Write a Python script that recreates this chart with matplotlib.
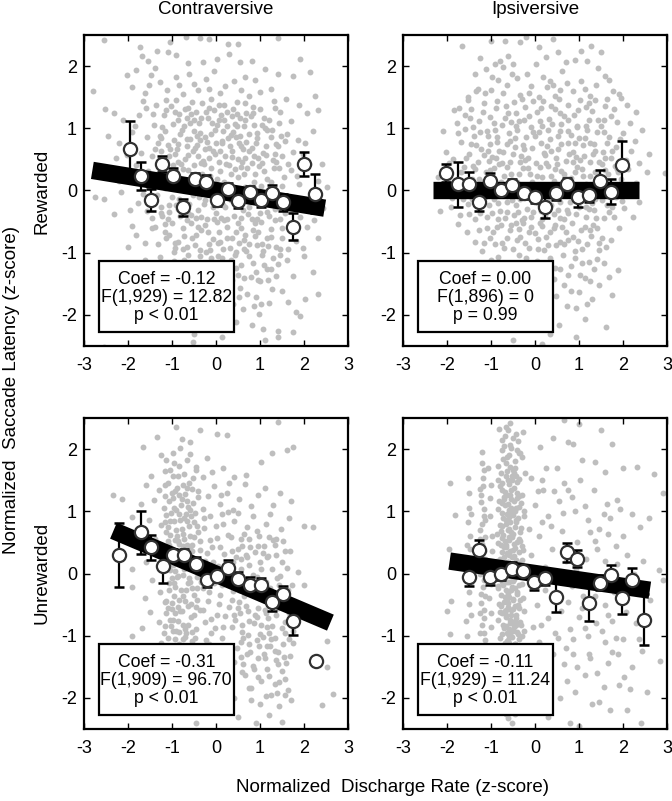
import numpy as np
import matplotlib.pyplot as plt
from matplotlib.patches import Rectangle

plt.rcParams['font.family'] = ['Liberation Sans', 'DejaVu Sans']
plt.rcParams['axes.unicode_minus'] = False

# ---- single-trial points (x = discharge rate z, y = latency z) ----
# contraversive / rewarded
cr_pts = [
    (-1.72,2.31),(-1.05,2.38),(-0.68,2.47),(-0.36,2.45),(-0.17,2.44),(0.28,2.36),(0.51,2.35),(1.42,2.45),(-1.69,2.16),
    (-1.35,2.24),(-1.54,2.09),(-1.08,2.22),(-0.29,2.07),(0.02,2.11),(0.55,2.07),(0.81,2.09),(-0.63,2.05),(-0.9,2.18),
    (0.3,2.2),(1.9,2.12),(-2.55,2.42),
    (-2.02,1.85),(-1.82,1.93),(-1.47,1.86),(-1.27,1.74),(-0.92,1.82),(-0.51,1.71),(-0.22,1.79),(0.41,1.76),(1.12,1.95),
    (1.41,1.88),(1.76,1.84),(2.14,1.9),(-2.79,1.6),(-1.62,1.56),(-1.11,1.61),(-0.76,1.55),(-0.42,1.62),(0.09,1.56),
    (0.56,1.61),(0.76,1.52),(1.24,1.63),(1.58,1.47),(2.26,1.52),(-0.05,1.92),(-1.38,1.97),(0.88,1.77),(-0.62,1.88),
    (0.2,1.68),(1.0,1.58),(-1.9,1.66),
    (-2.52,1.31),(-2.31,1.24),(-2.12,1.13),(-1.76,1.21),(-1.58,1.33),(-1.41,1.06),(-1.19,1.21),(-1.02,1.36),(-0.86,1.14),
    (-0.71,1.31),(-0.58,1.09),(-0.46,1.26),(-0.31,1.41),(-0.19,1.16),(-0.04,1.29),(0.11,1.21),(0.26,1.04),(0.39,1.31),
    (0.54,1.17),(0.69,1.24),(0.86,1.06),(1.01,1.31),(1.21,1.14),(1.46,1.26),(1.71,1.11),(2.06,1.24),(2.31,1.29),
    (-0.55,1.42),(0.02,1.06),(0.66,1.41),(-0.91,1.46),(0.36,1.19),(-1.36,1.37),(-1.22,1.02),(-0.38,1.08),(0.18,1.38),
    (0.83,1.35),(1.32,1.44),(-0.12,1.47),(0.48,1.03),(1.12,1.01),(-0.66,1.17),(-1.66,1.44),(1.88,1.37),
    (-1.91,0.94),(-1.56,0.86),(-1.31,0.76),(-1.16,0.96),(-0.96,0.81),(-0.81,0.91),(-0.66,0.71),(-0.51,0.96),(-0.36,0.81),
    (-0.26,0.66),(-0.11,0.91),(0.01,0.76),(0.16,0.96),(0.31,0.71),(0.46,0.86),(0.61,0.66),(0.76,0.91),(0.91,0.76),
    (1.06,0.61),(1.26,0.86),(1.41,0.71),(1.61,0.91),(1.86,0.81),(2.21,0.96),(-2.21,0.76),(-1.71,0.61),(-1.46,0.56),
    (-1.06,0.56),(-0.71,0.51),(-0.41,0.56),(-0.16,0.52),(0.21,0.56),(0.51,0.51),(0.96,0.52),(1.16,0.97),(1.51,0.56),
    (1.76,0.62),(-2.45,0.88),(-0.88,0.66),(-0.58,0.83),(0.08,0.63),(0.38,0.94),(0.68,0.78),(1.34,0.58),(-0.21,0.78),
    (0.56,0.72),(-1.24,0.63),(0.86,0.55),(1.97,0.58),(-0.02,0.98),(-0.47,0.68),(0.27,0.84),
    (-2.42,0.36),(-2.21,0.16),(-1.81,0.41),(-1.55,0.31),(-1.36,0.11),(-1.16,0.46),(-0.91,0.31),(-0.71,0.16),(-0.51,0.41),
    (-0.31,0.26),(-0.11,0.36),(0.09,0.31),(0.29,0.41),(0.49,0.21),(0.71,0.36),(0.89,0.26),(1.09,0.31),(1.31,0.36),
    (1.54,0.21),(1.89,0.11),(2.31,0.16),(2.52,0.06),(-0.86,0.46),(1.36,0.46),(0.66,0.06),(-0.36,0.04),(-1.02,0.12),
    (-0.62,0.02),(0.18,0.14),(0.42,0.03),(1.02,0.08),(-1.68,0.22),(0.82,0.44),(-0.18,0.12),(1.71,0.33),(2.12,0.42),
    (0.58,0.46),(-1.28,0.34),
    (-2.74,-0.11),(-2.55,-0.13),(-1.96,-0.31),(-1.66,-0.06),(-1.26,-0.36),(-1.01,-0.11),(-0.81,-0.41),(-0.61,-0.21),
    (-0.41,-0.31),(-0.21,-0.46),(-0.01,-0.36),(0.21,-0.26),(0.41,-0.41),(0.61,-0.31),(0.81,-0.46),(1.01,-0.36),
    (1.21,-0.41),(1.46,-0.46),(1.71,-0.31),(2.11,-0.21),(-1.45,-0.45),(0.26,-0.46),(-1.1,-0.46),(0.86,-0.16),
    (-0.52,-0.08),(0.04,-0.12),(0.46,-0.06),(-0.28,-0.22),(1.14,-0.18),(1.58,-0.09),(-2.32,-0.38),(-0.92,-0.24),
    (0.68,-0.02),(1.92,-0.42),(2.44,-0.28),(-1.78,-0.2),(0.12,-0.44),(-0.66,-0.48),
    (-2.01,-0.91),(-1.81,-0.71),(-1.46,-0.61),(-1.31,-0.86),(-1.06,-0.71),(-0.96,-0.99),(-0.76,-0.61),(-0.66,-0.91),
    (-0.46,-0.71),(-0.36,-0.96),(-0.26,-0.56),(-0.16,-0.86),(0.06,-0.66),(0.16,-0.94),(0.36,-0.76),(0.46,-0.99),
    (0.56,-0.61),(0.76,-0.86),(0.96,-0.66),(1.06,-0.98),(1.16,-0.76),(1.36,-0.91),(1.51,-0.61),(1.81,-0.81),
    (2.31,-0.76),(-0.56,-0.52),(0.26,-0.58),(0.88,-0.53),(-1.16,-0.54),(0.66,-0.72),(-0.06,-0.78),(1.26,-0.62),
    (-0.86,-0.82),(0.02,-0.51),(0.52,-0.84),(1.64,-0.94),(-1.62,-0.84),(2.06,-0.58),(-0.42,-0.58),(0.94,-0.88),
    (-1.61,-1.11),(-1.21,-1.26),(-0.86,-1.36),(-0.56,-1.21),(-0.36,-1.06),(-0.06,-1.31),(0.24,-1.21),(0.44,-1.03),
    (0.64,-1.41),(0.84,-1.16),(1.04,-1.03),(1.24,-1.26),(1.61,-1.11),(2.01,-1.06),(-1.71,-1.41),(-0.31,-1.46),
    (0.51,-1.36),(1.01,-1.46),(-1.01,-1.46),(2.21,-1.31),(0.14,-1.08),(-0.18,-1.19),(0.92,-1.31),(1.42,-1.18),
    (-0.72,-1.12),(0.36,-1.44),(1.18,-1.44),(1.74,-1.38),
    (-1.31,-1.61),(-0.81,-1.76),(-0.41,-1.66),(0.01,-1.86),(0.31,-1.61),(0.61,-1.91),(0.91,-1.71),(1.21,-1.81),
    (1.51,-1.61),(1.81,-1.96),(2.31,-1.66),(-0.21,-2.21),(0.21,-2.01),(0.81,-2.16),(1.41,-2.26),(1.76,-2.28),
    (1.91,-2.01),(-0.51,-2.31),(1.11,-2.41),(1.41,-2.36),(-1.62,-2.0),(0.46,-2.12),(0.98,-1.98),(-0.52,-2.44),
    (0.52,-1.72),(1.06,-2.22),(-2.54,-2.52),(0.14,-2.36),(1.64,-1.8),(2.02,-1.74),
    (-1.43,1.23),(-1.27,0.88),(-1.13,1.29),(-0.97,1.07),(-0.83,1.23),(-0.77,0.97),(-0.63,1.33),(-0.49,1.13),(-0.37,0.93),
    (-0.23,1.27),(-0.09,1.09),(0.07,1.37),(0.19,1.13),(0.33,0.89),(0.47,1.23),(0.63,1.03),(0.79,1.19),(0.93,0.93),
    (1.09,1.17),(1.27,0.97),(1.43,1.09),(1.57,0.79),
    (-1.39,0.67),(-1.21,0.47),(-1.09,0.73),(-0.93,0.59),(-0.79,0.43),(-0.67,0.83),(-0.53,0.63),(-0.43,0.87),(-0.29,0.47),
    (-0.17,0.69),(-0.03,0.59),(0.13,0.79),(0.23,0.43),(0.37,0.63),(0.53,0.77),(0.67,0.53),(0.81,0.69),(0.97,0.39),
    (1.13,0.71),(1.29,0.49),(1.47,0.87),(1.63,0.43),
    (-1.47,0.21),(-1.33,-0.07),(-1.19,0.27),(-1.07,-0.23),(-0.97,0.41),(-0.87,0.03),(-0.77,-0.17),(-0.63,0.33),(-0.47,0.13),
    (-0.39,-0.11),(-0.27,0.43),(-0.13,-0.03),(0.03,0.19),(0.17,-0.07),(0.33,0.27),(0.43,-0.19),(0.57,0.37),(0.73,-0.09),
    (0.87,0.13),(0.99,-0.23),(1.17,0.19),(1.33,-0.29),(1.49,0.07),(1.67,-0.17),
    (-1.39,-0.59),(-1.23,-0.41),(-1.13,-0.77),(-0.99,-0.53),(-0.87,-0.29),(-0.73,-0.73),(-0.57,-0.39),(-0.47,-0.87),
    (-0.33,-0.43),(-0.19,-0.67),(-0.07,-0.27),(0.09,-0.83),(0.19,-0.47),(0.31,-0.93),(0.49,-0.53),(0.63,-0.79),
    (0.73,-0.37),(0.89,-0.73),(1.03,-0.51),(1.19,-0.89),(1.33,-0.47),(1.49,-0.77),(1.69,-0.63),
    (-1.27,-1.07),(-1.09,-1.19),(-0.93,-0.93),(-0.79,-1.23),(-0.63,-1.03),(-0.49,-1.33),(-0.39,-1.17),(-0.23,-0.99),
    (-0.11,-1.09),(0.03,-1.21),(0.21,-1.33),(0.33,-1.11),(0.57,-1.19),(0.69,-0.97),(0.79,-1.39),(1.09,-1.19),
    (1.29,-1.09),(1.37,-1.37),(-0.67,-1.57),(0.09,-1.63),(0.71,-1.67),(1.27,-1.59),(-0.27,-1.79),(0.39,-1.83),(1.03,-1.83),
    (-1.83,1.03),(-2.03,0.57),(-1.87,0.27),(-2.17,-0.03),(-1.91,-0.57),(-2.27,0.53),(-1.57,-0.33),(1.83,0.23),(2.03,0.77),
    (2.23,-0.47),(1.97,-0.93),(2.41,0.43),(-1.53,1.69),(-0.83,1.69),(0.67,1.83),(1.33,1.33),(-0.17,1.63),(0.47,1.43),
    (-1.14,1.46),(-0.94,1.27),(-0.73,1.04),(-0.56,1.23),(-0.34,1.17),(-0.16,1.33),(0.06,1.14),(0.24,1.26),(0.44,1.07),
    (0.66,1.13),(0.84,1.24),(1.04,1.06),
    (-1.26,0.84),(-1.04,0.66),(-0.86,0.74),(-0.64,0.57),(-0.44,0.73),(-0.24,0.86),(-0.06,0.64),(0.14,0.77),(0.36,0.54),
    (0.54,0.87),(0.74,0.63),(0.94,0.84),(1.14,0.57),(1.36,0.74),
    (-1.34,0.26),(-1.16,0.04),(-0.94,0.17),(-0.74,0.34),(-0.56,0.16),(-0.34,0.44),(-0.14,0.23),(0.06,0.46),(0.26,0.06),
    (0.44,0.34),(0.64,0.27),(0.86,0.04),(1.04,0.44),(1.26,0.14),(1.44,0.36),
    (-1.24,-0.26),(-1.06,-0.34),(-0.84,-0.14),(-0.64,-0.36),(-0.46,-0.44),(-0.24,-0.16),(-0.04,-0.46),(0.16,-0.24),
    (0.34,-0.16),(0.56,-0.44),(0.74,-0.26),(0.94,-0.46),(1.16,-0.34),(1.34,-0.14),(1.56,-0.36),
    (-1.16,-0.66),(-0.94,-0.84),(-0.76,-0.94),(-0.54,-0.76),(-0.34,-0.64),(-0.14,-0.96),(0.04,-0.84),(0.24,-0.76),
    (0.46,-0.66),(0.64,-0.94),(0.84,-0.64),(1.04,-0.86),(1.24,-0.74),(1.46,-0.94),
    (-0.96,-1.14),(-0.66,-1.24),(-0.44,-1.44),(-0.26,-1.36),(0.04,-1.06),(0.26,-1.46),(0.46,-1.24),(0.76,-1.06),
    (0.96,-1.44),(1.16,-1.26),(1.46,-1.04),(-0.06,-1.64),(0.54,-1.56),(0.86,-1.86),
]

# ipsiversive / rewarded
ir_pts = [
    (-1.67,2.32),(-0.99,2.4),(-0.69,2.41),(-0.35,2.38),(0.1,2.3),(0.4,2.43),(1.28,2.32),(1.5,2.22),(-1.25,2.13),
    (-0.91,2.03),(-0.8,2.08),(-0.61,2.16),(-0.5,2.03),(0.71,2.06),(0.9,2.1),(-0.2,2.47),(0.25,2.15),(1.05,2.25),
    (-1.36,1.87),(-0.53,1.87),(-0.19,1.87),(0.34,1.76),(0.56,1.62),(1.05,1.76),(1.58,1.84),(1.39,1.7),(1.77,1.6),
    (-1.52,1.51),(-1.33,1.6),(-0.99,1.62),(-0.73,1.57),(-0.35,1.54),(0.08,1.51),(0.27,1.66),(0.87,1.6),(1.25,1.52),
    (-0.84,1.78),(-0.08,1.68),(0.62,1.92),(1.9,1.55),(-1.12,1.95),(0.45,1.52),
    (1.96,1.49),(2.08,1.38),(-1.52,1.46),(-1.78,1.08),(-1.6,1.22),(-1.45,1.31),(-1.28,1.12),(-1.15,1.41),(-1.02,1.18),
    (-0.88,1.32),(-0.76,1.05),(-0.62,1.24),(-0.48,1.42),(-0.36,1.12),(-0.22,1.35),(-0.1,1.02),(0.04,1.27),(0.18,1.44),
    (0.32,1.15),(0.46,1.31),(0.6,1.07),(0.74,1.38),(0.88,1.21),(1.02,1.46),(1.16,1.04),(1.3,1.28),(1.44,1.14),
    (1.58,1.36),(1.72,1.2),(1.86,1.1),(2.3,1.26),(-0.55,1.1),(0.12,1.12),(0.95,1.02),(-0.3,1.47),(0.55,1.47),
    (1.22,1.4),(-1.4,1.02),
    (-2.1,0.95),(-1.76,0.92),(-2.02,0.62),(-1.68,0.78),(-1.5,0.58),(-1.38,0.88),(-1.22,0.66),(-1.1,0.95),(-0.98,0.54),
    (-0.86,0.78),(-0.72,0.62),(-0.6,0.92),(-0.46,0.7),(-0.32,0.56),(-0.2,0.86),(-0.06,0.68),(0.08,0.94),(0.2,0.6),
    (0.34,0.82),(0.48,0.52),(0.6,0.74),(0.74,0.96),(0.86,0.62),(1.0,0.84),(1.12,0.56),(1.26,0.76),(1.4,0.94),
    (1.54,0.62),(1.68,0.86),(1.84,0.7),(2.0,0.92),(2.18,0.63),(2.37,0.45),(-0.9,0.98),(-0.4,0.98),(0.3,0.98),
    (0.92,0.76),(1.6,0.52),(-1.02,0.74),(0.52,0.88),(1.18,0.98),(-0.15,0.52),(2.6,0.58),(-1.86,0.5),
    (-2.2,0.22),(-1.95,0.45),(-1.82,0.08),(-1.62,0.38),(-1.44,0.18),(-1.3,0.46),(-1.12,0.3),(-0.96,0.12),(-0.82,0.42),
    (-0.7,0.24),(-0.56,0.46),(-0.42,0.14),(-0.28,0.36),(-0.12,0.26),(0.02,0.44),(0.16,0.22),(0.3,0.4),(0.44,0.16),
    (0.58,0.32),(0.7,0.48),(0.82,0.2),(0.96,0.38),(1.1,0.24),(1.24,0.46),(1.36,0.3),(1.52,0.42),(1.66,0.26),
    (1.82,0.4),(1.96,0.18),(2.12,0.34),(2.3,0.12),(2.55,0.3),(2.95,0.28),(-0.6,0.06),(0.4,0.04),(1.45,0.06),
    (-1.05,0.48),(0.08,0.08),
    (-2.15,-0.33),(-1.88,-0.12),(-1.7,-0.4),(-1.52,-0.22),(-1.36,-0.46),(-1.14,-0.1),(-0.98,-0.36),(-0.84,-0.2),
    (-0.68,-0.44),(-0.52,-0.16),(-0.38,-0.34),(-0.24,-0.08),(-0.1,-0.42),(0.06,-0.2),(0.22,-0.4),(0.36,-0.12),
    (0.52,-0.32),(0.66,-0.46),(0.8,-0.18),(0.94,-0.38),(1.08,-0.08),(1.22,-0.3),(1.38,-0.44),(1.52,-0.16),
    (1.68,-0.34),(1.84,-0.1),(2.02,-0.28),(2.22,-0.42),(-0.72,-0.06),(0.3,-0.26),(1.3,-0.2),(-0.3,-0.48),
    (-1.54,-0.66),(-1.2,-0.98),(-1.36,-0.82),(-1.08,-0.6),(-0.92,-0.86),(-0.78,-0.56),(-0.64,-0.76),(-0.5,-0.94),
    (-0.36,-0.62),(-0.22,-0.84),(-0.08,-0.58),(0.06,-0.78),(0.2,-0.96),(0.34,-0.66),(0.48,-0.88),(0.62,-0.58),
    (0.76,-0.8),(0.9,-0.98),(1.04,-0.64),(1.18,-0.86),(1.32,-0.56),(1.53,-0.77),(1.72,-0.79),(1.9,-0.6),
    (-1.74,-0.54),(0.12,-0.52),(1.46,-0.96),(-0.44,-0.52),
    (0.63,-1.03),(1.23,-1.15),(-1.0,-1.12),(-0.6,-1.3),(-0.2,-1.08),(0.18,-1.24),(0.44,-1.42),(0.82,-1.22),
    (1.02,-1.36),(1.4,-1.1),(1.68,-1.39),(0.66,-1.52),(1.45,-1.52),(1.88,-1.28),(-0.4,-1.46),(0.05,-1.4),
    (0.93,-1.89),(1.0,-1.63),(0.54,-2.16),(0.93,-2.35),(1.61,-2.19),(1.3,-1.74),(0.72,-1.86),(1.14,-2.06),
    (1.75,-1.68),(0.2,-1.78),(0.35,-2.3),(-0.5,-2.4),(0.15,-2.46),
    (-1.73,1.33),(-1.59,0.99),(-1.47,1.17),(-1.33,0.73),(-1.19,1.27),(-1.07,0.87),(-0.93,1.09),(-0.81,0.63),(-0.69,1.17),
    (-0.57,0.79),(-0.43,1.03),(-0.27,0.73),(-0.13,1.19),(0.01,0.87),(0.13,1.33),(0.27,0.71),(0.39,1.07),(0.53,0.67),
    (0.67,1.19),(0.81,0.89),(0.97,1.29),(1.09,0.73),(1.23,1.13),(1.37,0.63),(1.51,1.03),(1.63,0.77),(1.79,1.31),(1.93,0.83),
    (-1.69,0.29),(-1.57,0.53),(-1.41,0.39),(-1.27,0.19),(-1.17,0.57),(-1.03,0.33),(-0.89,0.53),(-0.77,0.13),(-0.63,0.37),
    (-0.49,0.59),(-0.37,0.27),(-0.23,0.49),(-0.07,0.13),(0.11,0.37),(0.23,0.57),(0.37,0.23),(0.51,0.43),(0.63,0.13),
    (0.77,0.59),(0.91,0.29),(1.03,0.49),(1.17,0.11),(1.31,0.59),(1.43,0.27),(1.59,0.33),(1.73,0.53),(1.89,0.29),(2.07,0.49),
    (-1.63,-0.13),(-1.49,-0.37),(-1.29,-0.23),(-1.09,-0.43),(-0.93,-0.13),(-0.79,-0.33),(-0.63,-0.19),(-0.47,-0.39),
    (-0.33,-0.13),(-0.19,-0.29),(-0.03,-0.07),(0.13,-0.33),(0.27,-0.13),(0.43,-0.37),(0.57,-0.19),(0.73,-0.31),
    (0.87,-0.09),(1.01,-0.27),(1.17,-0.43),(1.33,-0.31),(1.47,-0.07),(1.63,-0.23),(1.79,-0.43),(1.97,-0.17),
    (-1.27,-0.63),(-1.03,-0.77),(-0.87,-0.59),(-0.71,-0.93),(-0.57,-0.63),(-0.41,-0.79),(-0.27,-0.53),(-0.13,-0.93),
    (0.01,-0.69),(0.17,-0.57),(0.29,-0.87),(0.43,-0.61),(0.57,-0.83),(0.71,-0.67),(0.83,-0.53),(0.97,-0.81),
    (1.13,-0.59),(1.27,-0.73),(1.41,-0.61),(1.61,-0.91),
    (-0.83,-1.07),(-0.47,-1.17),(-0.07,-1.27),(0.33,-1.09),(0.57,-1.27),(0.91,-1.09),(1.13,-1.41),(1.33,-1.27),
    (1.57,-1.17),(0.81,-1.61),(1.19,-1.83),(0.47,-1.69),
    (-1.29,1.63),(-0.97,1.83),(-0.63,1.69),(-0.41,1.81),(-0.13,1.57),(0.19,1.83),(0.41,1.69),(0.73,1.73),(1.13,1.63),
    (1.43,1.97),(1.69,1.77),(-0.73,1.99),(0.03,2.03),(0.53,2.23),(1.19,2.09),(1.63,1.47),(-1.83,1.29),(2.17,1.09),
    (2.27,0.79),(2.43,0.97),(2.13,-0.03),(2.37,-0.19),(-1.97,0.19),(-1.91,-0.27),
    (-1.14,1.56),(-0.86,1.44),(-0.66,1.36),(-0.44,1.24),(-0.26,1.14),(-0.04,1.44),(0.16,1.04),(0.36,1.36),(0.56,1.24),
    (0.76,1.14),(0.96,1.04),(1.16,1.34),(1.36,1.46),(1.56,1.14),
    (-1.46,0.74),(-1.26,0.94),(-1.06,0.64),(-0.86,0.86),(-0.64,0.74),(-0.46,0.84),(-0.24,0.66),(-0.04,0.94),(0.14,0.76),
    (0.36,0.64),(0.56,0.96),(0.74,0.76),(0.94,0.54),(1.14,0.84),(1.34,0.74),(1.56,0.94),(1.74,0.64),
    (-1.56,0.14),(-1.36,0.34),(-1.16,0.16),(-0.94,0.36),(-0.74,0.44),(-0.54,0.26),(-0.34,0.46),(-0.16,0.36),(0.04,0.24),
    (0.24,0.44),(0.46,0.34),(0.66,0.26),(0.86,0.46),(1.06,0.34),(1.26,0.24),(1.46,0.46),(1.66,0.14),(1.86,0.34),
    (-1.44,-0.14),(-1.24,-0.36),(-1.04,-0.24),(-0.84,-0.46),(-0.64,-0.34),(-0.44,-0.24),(-0.24,-0.44),(-0.04,-0.34),
    (0.16,-0.46),(0.36,-0.24),(0.56,-0.44),(0.76,-0.36),(0.96,-0.16),(1.16,-0.26),(1.36,-0.14),(1.56,-0.44),(1.76,-0.26),
    (-1.16,-0.84),(-0.96,-0.66),(-0.76,-0.84),(-0.54,-0.56),(-0.34,-0.74),(-0.14,-0.66),(0.06,-0.94),(0.26,-0.74),
    (0.46,-0.56),(0.66,-0.86),(0.86,-0.74),(1.06,-0.94),(1.26,-0.64),(1.46,-0.84),
    (-0.36,-1.04),(0.04,-1.14),(0.46,-1.24),(0.76,-1.36),(1.06,-1.16),(1.26,-1.46),(0.26,-1.56),
]

# contraversive / unrewarded
cu_pts = [
    (-1.35,2.2),(-0.36,2.31),(0.02,2.25),(0.24,2.23),(1.42,2.44),(1.27,1.93),(1.61,1.98),(1.76,2.04),(-1.65,2.04),
    (-0.82,2.02),(-0.6,1.92),(-0.95,1.78),(-1.15,1.64),(-0.72,1.6),(-0.45,1.72),(-0.2,1.86),(0.15,1.7),(0.42,1.55),
    (-1.48,1.56),(-0.3,1.55),(0.68,1.58),(1.02,1.8),(-1.25,1.9),(-0.58,2.12),(-0.9,2.36),
    (-2.33,1.26),(-2.14,1.2),(-1.58,1.42),(-1.42,1.18),(-1.3,1.34),(-1.18,1.06),(-1.08,1.45),(-0.98,1.22),(-0.88,1.38),
    (-0.8,1.1),(-0.7,1.28),(-0.62,1.46),(-0.52,1.14),(-0.42,1.32),(-0.3,1.04),(-0.18,1.24),(-0.04,1.4),(0.1,1.12),
    (0.24,1.3),(0.38,1.02),(0.52,1.2),(0.66,1.44),(0.8,1.08),(0.96,1.26),(1.12,1.38),(1.3,1.1),(1.46,1.3),
    (1.7,1.16),(-0.92,1.02),(-0.6,1.02),(0.3,1.46),(-1.7,1.12),(-1.0,1.3),(-0.75,1.42),
    (-1.92,0.91),(-1.7,0.7),(-1.52,0.86),(-1.38,0.56),(-1.24,0.78),(-1.14,0.94),(-1.04,0.62),(-0.96,0.84),(-0.86,0.52),
    (-0.78,0.72),(-0.68,0.96),(-0.58,0.6),(-0.5,0.82),(-0.4,0.66),(-0.28,0.9),(-0.14,0.54),(0.0,0.76),(0.14,0.96),
    (0.28,0.62),(0.42,0.84),(0.56,0.56),(0.7,0.74),(0.84,0.92),(0.98,0.6),(1.14,0.8),(1.3,0.54),(1.48,0.72),
    (1.66,0.9),(2.0,0.77),(2.2,0.75),(-0.92,0.7),(-0.72,0.56),(-0.56,0.92),(-1.1,0.74),(0.5,0.98),(1.22,0.96),
    (-0.36,0.52),(-0.82,0.86),
    (-2.18,0.29),(-1.92,0.08),(-1.72,0.44),(-1.58,0.18),(-1.4,0.34),(-1.22,0.1),(-1.12,0.42),(-1.02,0.22),(-0.94,0.04),
    (-0.86,0.36),(-0.76,0.16),(-0.66,0.46),(-0.56,0.26),(-0.46,0.06),(-0.36,0.38),(-0.24,0.2),(-0.1,0.42),(0.04,0.12),
    (0.18,0.32),(0.32,0.04),(0.46,0.26),(0.6,0.44),(0.74,0.14),(0.88,0.34),(1.02,0.08),(1.18,0.28),(1.34,0.46),
    (1.5,0.18),(1.68,0.36),(1.86,0.02),(-0.8,0.28),(-1.06,0.46),(-0.62,0.1),(0.68,0.3),(1.1,0.44),(-0.98,0.14),
    (-1.9,-0.22),(-1.62,-0.4),(-1.46,-0.1),(-1.28,-0.3),(-1.16,-0.46),(-1.06,-0.16),(-0.96,-0.36),(-0.88,-0.06),
    (-0.8,-0.26),(-0.7,-0.44),(-0.6,-0.14),(-0.5,-0.34),(-0.4,-0.04),(-0.3,-0.24),(-0.18,-0.44),(-0.04,-0.16),
    (0.1,-0.34),(0.24,-0.08),(0.38,-0.28),(0.52,-0.46),(0.66,-0.12),(0.8,-0.32),(0.94,-0.06),(1.08,-0.42),
    (1.22,-0.24),(1.38,-0.08),(1.54,-0.36),(1.72,-0.18),(2.0,-0.19),(-0.76,-0.02),(-1.0,-0.48),(0.46,-0.02),
    (1.3,-0.46),(-0.44,-0.42),
    (-1.69,-0.87),(-1.92,-1.0),(-1.5,-0.62),(-1.3,-0.78),(-1.18,-0.96),(-1.08,-0.56),(-0.98,-0.74),(-0.9,-0.92),
    (-0.82,-0.6),(-0.74,-0.82),(-0.64,-0.52),(-0.56,-0.7),(-0.46,-0.9),(-0.36,-0.58),(-0.24,-0.78),(-0.12,-0.96),
    (0.02,-0.66),(0.16,-0.86),(0.3,-0.54),(0.44,-0.74),(0.58,-0.94),(0.72,-0.6),(0.86,-0.8),(1.0,-0.98),
    (1.14,-0.64),(1.28,-0.84),(1.42,-0.56),(1.56,-0.78),(1.74,-0.92),(2.52,-1.08),(-0.94,-0.64),(0.5,-0.56),
    (0.94,-0.7),(1.2,-0.96),(-0.68,-0.96),(-1.02,-0.84),
    (-1.24,-1.12),(-1.04,-1.32),(-0.94,-1.06),(-0.84,-1.44),(-0.74,-1.2),(-0.64,-1.38),(-0.54,-1.08),(-0.44,-1.28),
    (-0.3,-1.46),(-0.16,-1.14),(0.0,-1.34),(0.14,-1.04),(0.28,-1.24),(0.42,-1.42),(0.56,-1.1),(0.7,-1.3),
    (0.84,-1.48),(0.98,-1.16),(1.12,-1.36),(1.26,-1.06),(1.42,-1.26),(1.58,-1.44),(1.76,-1.12),(2.52,-1.51),
    (0.62,-1.46),(1.06,-1.02),(-0.7,-1.02),(1.4,-1.46),
    (-1.0,-1.6),(-0.8,-1.8),(-0.62,-2.02),(-0.4,-1.66),(-0.2,-1.9),(0.0,-2.2),(0.2,-1.7),(0.4,-2.0),(0.6,-1.58),
    (0.8,-1.84),(1.0,-2.1),(1.2,-1.64),(1.38,-1.92),(1.56,-1.7),(1.7,-2.04),(2.67,-1.94),(2.4,-2.12),(0.5,-2.3),
    (1.5,-2.38),(-0.46,-2.4),(1.2,-2.28),(0.9,-2.4),
    (-1.13,1.83),(-0.97,1.57),(-0.83,1.73),(-0.67,1.37),(-0.53,1.53),(-1.07,1.17),(-0.93,1.33),(-0.77,1.19),(-0.63,1.07),
    (-0.47,0.97),(-1.17,0.83),(-1.03,0.97),(-0.89,0.61),(-0.73,0.89),(-0.61,0.77),(-0.49,0.59),(-1.09,0.53),(-0.97,0.37),
    (-0.83,0.47),(-0.71,0.29),(-0.59,0.43),(-0.43,0.23),(-1.13,0.17),(-0.99,-0.07),(-0.87,0.19),(-0.73,0.07),(-0.61,-0.07),
    (-0.51,0.13),(-1.07,-0.27),(-0.93,-0.21),(-0.83,-0.43),(-0.69,-0.27),(-0.57,-0.49),(-0.43,-0.23),(-1.13,-0.63),
    (-0.99,-0.57),(-0.87,-0.77),(-0.77,-0.61),(-0.63,-0.83),(-0.49,-0.67),(-1.09,-1.03),(-0.97,-0.93),(-0.83,-1.13),
    (-0.71,-0.89),(-0.59,-1.19),(-0.47,-1.03),(-1.03,-1.43),(-0.89,-1.29),(-0.77,-1.53),(-0.63,-1.67),(-0.51,-1.37),
    (-0.93,-1.73),(-0.73,-1.93),(-0.57,-1.83),(-0.87,-2.07),(-0.97,1.93),(-0.77,2.17),(-0.67,1.83),(-1.17,1.43),(-0.41,1.23),
    (0.33,0.59),(0.49,0.39),(0.63,0.63),(0.77,0.43),(0.93,0.69),(1.07,0.33),(1.21,0.59),(1.37,0.29),(1.53,0.53),
    (0.39,0.19),(0.57,0.07),(0.71,0.27),(0.83,-0.03),(0.99,0.19),(1.13,-0.13),(1.27,0.07),(1.43,-0.19),(1.61,0.09),
    (0.37,-0.43),(0.53,-0.27),(0.69,-0.53),(0.81,-0.19),(0.97,-0.39),(1.11,-0.59),(1.29,-0.33),(1.47,-0.53),(1.63,-0.27),
    (0.41,-0.67),(0.59,-0.83),(0.73,-0.99),(0.89,-0.67),(1.03,-0.83),(1.19,-0.71),(1.33,-1.03),(1.51,-0.87),(1.67,-0.63),
    (0.47,-1.19),(0.61,-1.03),(0.77,-1.27),(0.93,-1.07),(1.09,-1.29),(1.23,-1.17),(1.37,-1.39),(1.53,-1.13),(1.69,-1.33),
    (0.67,-1.63),(0.87,-1.53),(1.03,-1.73),(1.17,-1.53),(1.33,-1.77),(1.49,-1.57),(1.63,-1.87),(0.79,-2.03),(1.13,-1.97),
    (1.43,-2.13),
    (-0.27,0.73),(-0.13,0.93),(0.03,0.57),(0.17,0.79),(-0.21,0.33),(-0.07,0.19),(0.09,0.43),(0.23,0.17),(-0.33,-0.13),
    (-0.17,-0.29),(-0.01,-0.03),(0.13,-0.19),(-0.29,-0.59),(-0.11,-0.73),(0.07,-0.49),(0.21,-0.69),(-0.23,-1.07),
    (-0.03,-0.87),(0.17,-1.19),(-0.13,-1.39),(0.07,-1.57),(-0.33,-1.73),(0.27,-1.43),(0.11,1.27),(-0.09,1.63),(0.27,0.99),
    (-1.16,1.24),(-0.96,1.06),(-0.84,1.26),(-0.66,1.16),(-0.54,1.36),(-0.46,1.66),(-0.86,1.56),(-1.04,1.66),
    (-1.14,0.66),(-0.94,0.54),(-0.76,0.64),(-0.66,0.84),(-0.54,0.46),(-0.44,0.76),(-1.04,0.84),(-0.84,0.96),
    (-1.16,0.34),(-1.04,0.06),(-0.86,-0.04),(-0.76,0.44),(-0.64,0.24),(-0.54,0.36),(-0.44,-0.06),(-0.96,0.26),
    (-1.14,-0.44),(-0.96,-0.16),(-0.86,-0.54),(-0.74,-0.36),(-0.64,-0.16),(-0.54,-0.24),(-0.46,-0.54),(-1.04,-0.74),
    (-1.16,-0.84),(-0.94,-1.16),(-0.84,-0.94),(-0.74,-1.06),(-0.64,-1.26),(-0.54,-0.94),(-0.44,-1.16),(-1.06,-1.24),
    (-0.96,-1.56),(-0.86,-1.86),(-0.76,-1.34),(-0.66,-1.46),(-0.56,-1.64),(-0.46,-1.86),(-0.66,-2.16),(-0.86,-1.64),
    (0.36,0.36),(0.56,0.24),(0.76,0.56),(0.96,0.44),(1.16,0.26),(1.36,0.56),(1.56,0.36),(0.44,-0.14),(0.64,-0.36),
    (0.86,-0.26),(1.06,-0.16),(1.26,-0.44),(1.46,-0.04),(1.66,-0.46),
    (0.36,-0.86),(0.54,-0.64),(0.76,-0.76),(0.96,-0.56),(1.16,-0.86),(1.36,-0.66),(1.56,-0.96),(1.74,-0.76),(0.56,-1.34),
    (0.74,-1.14),(0.96,-1.36),(1.16,-1.16),(1.34,-1.24),(1.54,-1.34),(1.66,-1.06),(0.76,-1.84),(0.96,-1.66),(1.26,-1.96),
    (1.56,-1.96),(1.44,-1.74),
]

# ipsiversive / unrewarded
iu_pts = [
    (-0.56,2.42),(-0.62,2.3),(-0.5,2.18),(-0.7,2.05),(-0.42,1.98),(-0.58,1.9),(-0.66,1.78),(-0.46,1.7),(-0.78,1.62),
    (-0.52,1.56),(-0.36,1.52),(-0.72,1.84),(-0.3,1.88),(-0.84,1.5),(-0.6,1.44),(-0.48,1.38),(-0.74,1.34),(-0.4,1.3),
    (-0.64,1.26),(-0.54,1.2),(-0.82,1.16),(-0.32,1.14),(-0.68,1.1),(-0.44,1.06),(-0.58,1.02),(-0.76,0.98),(-0.5,0.94),
    (-0.38,0.9),(-0.66,0.86),(-0.56,0.82),(-0.8,0.78),(-0.46,0.74),(-0.62,0.7),(-0.34,0.66),(-0.72,0.62),(-0.52,0.58),
    (-0.6,0.54),(-0.42,0.5),(-0.78,0.46),(-0.66,0.42),(-0.5,0.38),(-0.36,0.34),(-0.58,0.3),(-0.7,0.26),(-0.44,0.22),
    (-0.62,0.18),(-0.54,0.14),(-0.82,0.1),(-0.4,0.06),(-0.68,0.02),(-0.56,-0.02),(-0.46,-0.06),(-0.74,-0.1),(-0.6,-0.14),
    (-0.36,-0.18),(-0.52,-0.22),(-0.66,-0.26),(-0.42,-0.3),(-0.78,-0.34),(-0.58,-0.38),(-0.5,-0.42),(-0.7,-0.46),
    (-0.38,-0.5),(-0.62,-0.54),(-0.54,-0.58),(-0.8,-0.62),(-0.44,-0.66),(-0.66,-0.7),(-0.56,-0.74),(-0.34,-0.78),
    (-0.72,-0.82),(-0.48,-0.86),(-0.6,-0.9),(-0.4,-0.94),(-0.76,-0.98),(-0.52,-1.02),(-0.64,-1.08),(-0.46,-1.14),
    (-0.58,-1.2),(-0.7,-1.26),(-0.42,-1.32),(-0.56,-1.38),(-0.66,-1.44),(-0.5,-1.5),(-0.6,-1.58),(-0.46,-1.66),
    (-0.7,-1.74),(-0.54,-1.82),(-0.62,-1.9),(-0.48,-2.0),(-0.58,-2.12),(-0.66,-2.26),(-0.52,-2.4),
    (-0.48,1.62),(-0.62,1.5),(-0.7,1.2),(-0.46,1.0),(-0.58,0.72),(-0.68,0.52),(-0.48,0.28),(-0.64,0.08),(-0.5,-0.12),
    (-0.62,-0.32),(-0.46,-0.52),(-0.68,-0.6),(-0.52,-0.8),(-0.64,-0.96),(-0.58,-1.12),(-0.5,-1.28),(-0.74,-1.4),
    (-0.3,0.44),(-0.28,-0.4),(-0.86,0.2),(-0.84,-0.2),(-0.26,1.0),(-0.88,-1.2),(-0.3,-1.0),
    (-1.21,1.96),(-1.21,1.77),(-1.52,1.53),(-1.18,1.4),(-1.22,1.15),(-1.16,0.92),(-1.24,0.7),(-1.2,0.48),(-1.14,0.24),
    (-1.26,0.0),(-1.18,-0.22),(-1.22,-0.48),(-1.16,-0.72),(-1.24,-0.96),(-1.2,-1.22),(-1.18,-1.46),(-1.5,1.05),
    (-1.48,0.6),(-1.52,0.18),(-1.5,-0.3),(-1.46,-0.66),(-1.54,-1.0),(-1.02,1.22),(-0.98,0.36),(-1.04,-0.4),(-1.0,-0.86),
    (-1.82,0.94),(-1.96,0.4),(-1.9,-0.44),(-1.94,-0.98),(-1.76,0.2),(-1.06,1.7),(-1.3,-1.72),(-1.1,-2.0),
    (-1.93,1.45),(-2.0,-0.6),(-1.7,-1.4),(-2.1,-1.6),
    (-0.08,1.53),(0.15,1.5),(0.19,1.34),(0.76,2.12),(0.87,2.09),(1.06,1.82),(1.36,1.8),(1.59,1.63),(1.74,2.09),
    (2.0,1.69),(2.31,1.72),(0.76,1.34),(1.02,1.5),(1.33,1.34),(1.63,1.12),(1.86,1.18),(2.2,0.96),(2.39,0.75),
    (0.66,2.46),(0.12,2.04),(0.5,1.7),(0.0,1.1),(0.3,0.92),(0.55,1.16),(0.9,1.0),(1.2,0.86),(1.45,0.72),(1.7,0.9),
    (2.0,0.6),(2.6,0.9),(2.9,1.3),(0.1,0.6),(0.38,0.4),(0.62,0.68),(0.96,0.5),(1.16,0.24),(1.4,0.4),(1.6,0.2),
    (1.84,0.44),(2.1,0.3),(2.46,0.2),(2.82,0.06),(-0.1,0.3),(0.22,0.1),(0.5,-0.08),(0.84,-0.2),(1.1,-0.36),
    (1.3,-0.1),(1.58,-0.5),(1.8,-0.3),(2.06,-0.62),(2.3,-0.8),(2.62,-0.42),(0.05,-0.5),(0.3,-0.72),(0.58,-0.6),
    (0.8,-0.9),(1.0,-0.7),(1.2,-1.0),(1.38,-0.8),(1.6,-1.1),(1.76,-0.76),(2.0,-1.06),(2.44,-1.24),(0.1,-1.1),
    (0.4,-1.3),(0.7,-1.2),(0.96,-1.5),(1.22,-1.3),(1.4,-1.6),(1.66,-1.44),(1.9,-1.8),(2.2,-1.5),(2.54,-1.9),
    (0.2,-1.7),(0.56,-2.0),(0.9,-1.9),(1.3,-2.1),(1.7,-2.2),(2.1,-2.2),(2.4,-2.4),(0.3,-2.3),(0.8,-2.4),(1.0,-2.45),
    (-0.1,-1.4),(-0.05,-0.86),(-0.14,0.72),(0.25,1.7),(0.4,2.18),(1.5,2.3),(2.7,1.6),(2.84,-1.4),(2.9,-0.1),
    (1.0,2.4),(0.42,0.02),(0.7,0.2),(1.88,-1.3),(2.24,0.0),
    (-0.81,2.33),(-0.27,2.27),(-0.69,2.21),(-0.39,2.13),(-0.57,2.07),(-0.75,1.99),(-0.33,1.93),(-0.63,1.87),(-0.45,1.81),
    (-0.85,1.73),(-0.51,1.67),(-0.23,1.61),(-0.67,1.57),(-0.41,1.47),(-0.79,1.41),(-0.55,1.35),(-0.29,1.27),(-0.71,1.23),
    (-0.47,1.17),(-0.61,1.11),(-0.37,1.07),(-0.83,1.03),(-0.53,0.97),(-0.25,0.93),(-0.73,0.89),(-0.43,0.83),(-0.65,0.79),
    (-0.31,0.73),(-0.77,0.69),(-0.49,0.63),(-0.59,0.59),(-0.35,0.53),(-0.85,0.49),(-0.71,0.43),(-0.45,0.41),(-0.27,0.37),
    (-0.63,0.33),(-0.53,0.27),(-0.79,0.23),(-0.39,0.17),(-0.69,0.13),(-0.57,0.07),(-0.33,0.03),(-0.75,-0.03),(-0.47,-0.09),
    (-0.63,-0.13),(-0.29,-0.17),(-0.83,-0.23),(-0.55,-0.27),(-0.41,-0.33),(-0.69,-0.37),(-0.35,-0.43),(-0.61,-0.47),
    (-0.77,-0.53),(-0.49,-0.57),(-0.25,-0.61),(-0.65,-0.67),(-0.43,-0.71),(-0.85,-0.75),(-0.57,-0.79),(-0.31,-0.83),
    (-0.71,-0.87),(-0.51,-0.93),(-0.39,-0.97),(-0.79,-1.03),(-0.61,-1.07),(-0.45,-1.13),(-0.27,-1.17),(-0.67,-1.23),
    (-0.53,-1.27),(-0.83,-1.33),(-0.37,-1.37),(-0.59,-1.43),(-0.73,-1.47),(-0.43,-1.53),(-0.55,-1.61),(-0.33,-1.67),
    (-0.79,-1.71),(-0.63,-1.77),(-0.47,-1.87),(-0.71,-1.93),(-0.57,-2.03),(-0.41,-2.17),(-0.75,-2.07),(-0.61,-2.33),
    (-0.53,1.51),(-0.69,1.31),(-0.41,1.21),(-0.59,0.91),(-0.75,0.57),(-0.47,0.47),(-0.61,0.19),(-0.37,-0.03),(-0.73,-0.19),
    (-0.51,-0.41),(-0.67,-0.59),(-0.43,-0.83),(-0.59,-1.01),(-0.69,-1.11),(-0.49,-1.41),(-0.81,-0.49),(-0.29,0.21),
    (-0.87,0.63),(-0.25,-0.93),(-0.57,1.71),
    (-1.19,1.53),(-1.23,1.27),(-1.17,1.03),(-1.21,0.79),(-1.13,0.59),(-1.25,0.37),(-1.19,0.11),(-1.15,-0.11),(-1.23,-0.33),
    (-1.17,-0.59),(-1.21,-0.83),(-1.13,-1.07),(-1.49,1.29),(-1.53,0.83),(-1.47,0.39),(-1.51,-0.07),(-1.49,-0.49),
    (-1.03,0.93),(-0.99,-0.17),(-1.01,-0.63),(-0.97,0.61),(-1.01,1.43),
    (0.17,0.83),(0.43,1.33),(0.63,0.97),(0.83,1.23),(1.13,1.09),(1.37,0.53),(1.67,0.63),(1.93,1.03),(0.23,-0.27),
    (0.47,-0.37),(0.67,-0.03),(0.93,0.07),(1.23,-0.53),(1.47,-0.23),(1.73,-0.07),(2.13,-0.29),(0.13,-0.83),(0.53,-1.03),
    (0.87,-1.29),(1.13,-0.87),(1.53,-0.93),(1.83,-1.03),(0.33,-1.53),(0.73,-1.73),(1.13,-1.63),(1.57,-1.83),(2.03,-1.67),
    (0.03,0.03),(-0.03,-0.23),(0.07,1.33),
    (-0.66,2.36),(-0.44,2.24),(-0.76,2.14),(-0.54,2.02),(-0.36,1.94),(-0.64,1.64),(-0.44,1.56),(-0.74,1.46),(-0.56,1.26),
    (-0.36,1.24),(-0.76,1.14),(-0.54,1.06),(-0.64,0.96),(-0.44,0.86),(-0.74,0.76),(-0.54,0.66),(-0.36,0.56),(-0.66,0.46),
    (-0.56,0.36),(-0.76,0.34),(-0.46,0.16),(-0.66,0.04),(-0.52,-0.06),(-0.76,-0.14),(-0.46,-0.24),(-0.64,-0.44),
    (-0.36,-0.56),(-0.74,-0.64),(-0.54,-0.66),(-0.46,-0.76),(-0.66,-0.84),(-0.56,-0.96),(-0.36,-1.06),(-0.74,-1.16),
    (-0.54,-1.16),(-0.44,-1.24),(-0.64,-1.36),(-0.56,-1.54),(-0.76,-1.56),(-0.44,-1.76),(-0.66,-1.66),(-0.52,-1.96),
    (-0.64,-2.16),(-0.46,-2.26),
    (-1.16,1.66),(-1.24,1.36),(-1.14,0.86),(-1.26,0.56),(-1.16,0.36),(-1.24,0.16),(-1.14,-0.36),(-1.26,-0.64),
    (-1.16,-0.96),(-1.24,-1.36),(-1.14,-1.56),(-1.46,0.96),(-1.54,0.46),(-1.46,-0.16),(-1.56,-0.76),(-1.46,-1.26),
    (0.36,0.76),(0.66,1.46),(0.96,0.26),(1.26,0.66),(1.56,0.96),(1.86,0.16),(0.26,-0.06),(0.76,-0.46),(1.06,-0.56),
    (1.36,-0.36),(1.66,-0.66),(2.26,-0.26),(0.46,-0.96),(0.86,-1.06),(1.26,-1.36),(1.76,-1.26),(2.36,-1.06),
    (0.66,-1.46),(1.46,-2.06),(2.16,-1.86),
]

# ---- binned means with SEM ----
cr_bin_x = [-1.95, -1.71, -1.47, -1.23, -0.98, -0.74, -0.48, -0.23, 0.02, 0.27, 0.51, 0.77, 1.02, 1.27, 1.52, 1.76, 2.0, 2.25]
cr_bin_y = [0.66, 0.23, -0.15, 0.43, 0.23, -0.27, 0.18, 0.13, -0.15, 0.02, -0.17, -0.02, -0.16, -0.04, -0.19, -0.58, 0.43, -0.05]
cr_bin_err = [0.46, 0.23, 0.18, 0.13, 0.13, 0.14, 0.1, 0.12, 0.1, 0.1, 0.11, 0.1, 0.1, 0.13, 0.14, 0.22, 0.19, 0.31]

ir_bin_x = [-2.02, -1.75, -1.51, -1.27, -1.02, -0.77, -0.52, -0.26, -0.01, 0.23, 0.48, 0.73, 0.97, 1.23, 1.48, 1.73, 1.98]
ir_bin_y = [0.28, 0.10, 0.10, -0.18, 0.15, 0.01, 0.09, -0.04, -0.10, -0.27, -0.04, 0.10, -0.10, -0.07, 0.16, -0.02, 0.41]
ir_bin_err = [0.15, 0.36, 0.2, 0.15, 0.13, 0.1, 0.1, 0.1, 0.1, 0.18, 0.12, 0.1, 0.16, 0.11, 0.17, 0.2, 0.38]

cu_bin_x = [-2.21, -1.71, -1.47, -1.21, -0.97, -0.72, -0.46, -0.21, 0.03, 0.27, 0.51, 0.77, 1.02, 1.27, 1.52, 1.76, 2.27]
cu_bin_y = [0.30, 0.66, 0.42, 0.12, 0.29, 0.29, 0.16, -0.10, -0.04, 0.09, -0.09, -0.19, -0.19, -0.46, -0.33, -0.76, -1.40]
cu_bin_err = [0.51, 0.34, 0.2, 0.27, 0.1, 0.1, 0.1, 0.11, 0.1, 0.12, 0.12, 0.13, 0.11, 0.14, 0.13, 0.23, 0.0]

iu_bin_x = [-1.51, -1.27, -1.02, -0.77, -0.52, -0.27, -0.02, 0.23, 0.48, 0.72, 0.96, 1.22, 1.47, 1.72, 1.97, 2.21, 2.48]
iu_bin_y = [-0.05, 0.38, -0.05, -0.01, 0.08, 0.04, -0.14, -0.08, -0.38, 0.34, 0.24, -0.48, -0.15, -0.02, -0.40, -0.10, -0.74]
iu_bin_err = [0.15, 0.16, 0.13, 0.1, 0.1, 0.1, 0.13, 0.11, 0.24, 0.15, 0.14, 0.28, 0.12, 0.16, 0.25, 0.19, 0.41]

# ---- regression fits ----
fit_intercept = [0.0, 0.0, -0.01, 0.0]
fit_slope = [-0.115, 0.0, -0.30, -0.103]
fit_xmin = [-2.81, -2.32, -2.33, -1.94]
fit_xmax = [2.47, 2.36, 2.60, 2.61]

stats = ['Coef = -0.12\nF(1,929) = 12.82\np < 0.01',
         'Coef = 0.00\nF(1,896) = 0\np = 0.99',
         'Coef = -0.31\nF(1,909) = 96.70\np < 0.01',
         'Coef = -0.11\nF(1,929) = 11.24\np < 0.01']

panels = [
    (cr_pts, cr_bin_x, cr_bin_y, cr_bin_err),
    (ir_pts, ir_bin_x, ir_bin_y, ir_bin_err),
    (cu_pts, cu_bin_x, cu_bin_y, cu_bin_err),
    (iu_pts, iu_bin_x, iu_bin_y, iu_bin_err),
]

fig = plt.figure(figsize=(6.72, 8.01), dpi=100)
W, H = 672, 801
lefts = [84, 403]
tops = [35, 418]
aw, ah = 264, 311

for i, (pts, bx, by, be) in enumerate(panels):
    r, c = divmod(i, 2)
    ax = fig.add_axes([lefts[c] / W, 1 - (tops[r] + ah) / H, aw / W, ah / H])
    pts = np.array(pts)
    ax.scatter(pts[:, 0], pts[:, 1], s=18, c='#bebebe', linewidths=0, zorder=1)
    ax.errorbar(bx, by, yerr=be, fmt='none', ecolor='black', elinewidth=1.6,
                capsize=3.5, capthick=1.8, zorder=2)
    xs = np.array([fit_xmin[i], fit_xmax[i]])
    ax.plot(xs, fit_intercept[i] + fit_slope[i] * xs, color='black', lw=12.5,
            solid_capstyle='butt', zorder=3)
    ax.plot(bx, by, 'o', mfc='white', mec='#303030', mew=1.6, ms=9.5, zorder=4)
    ax.add_patch(Rectangle((-2.66, -2.28), 3.06, 1.14, fc='white', ec='black', lw=1.6, zorder=5))
    ax.text(-1.13, -1.72, stats[i], ha='center', va='center', fontsize=12.7,
            linespacing=1.06, zorder=6)
    ax.set_xlim(-3, 3)
    ax.set_ylim(-2.5, 2.5)
    ax.set_xticks([-3, -2, -1, 0, 1, 2, 3])
    ax.set_yticks([-2, -1, 0, 1, 2])
    ax.tick_params(direction='in', top=True, right=True, length=4.5, width=1, labelsize=13)
    ax.tick_params(axis='x', pad=8)
    ax.tick_params(axis='y', pad=5)
    for s in ax.spines.values():
        s.set_linewidth(1.6)

fig.text(216 / W, 1 - 14 / H, 'Contraversive', ha='center', va='baseline', fontsize=13.5)
fig.text(535 / W, 1 - 14 / H, 'Ipsiversive', ha='center', va='baseline', fontsize=13.5)
fig.text(42 / W, 1 - 191 / H, 'Rewarded', rotation=90, ha='center', va='center', fontsize=13.5)
fig.text(42 / W, 1 - 573 / H, 'Unrewarded', rotation=90, ha='center', va='center', fontsize=13.5)
fig.text(12 / W, 1 - 390 / H, 'Normalized  Saccade Latency (z-score)', rotation=90,
         ha='center', va='center', fontsize=13.5)
fig.text(392 / W, 1 - 787 / H, 'Normalized  Discharge Rate (z-score)', ha='center',
         va='center', fontsize=13.5)

fig.savefig('out.png', dpi=100)
